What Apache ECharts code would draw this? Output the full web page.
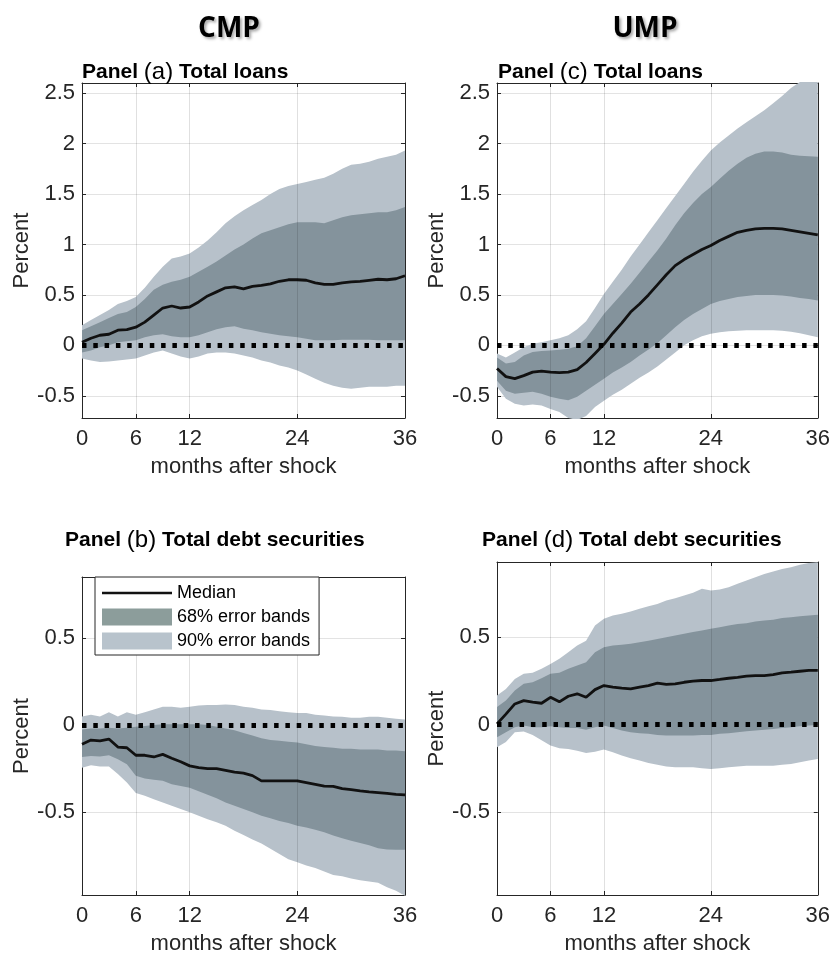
<!DOCTYPE html>
<html>
<head>
<meta charset="utf-8">
<title>Impulse responses: loans and debt securities</title>
<script src="https://cdn.jsdelivr.net/npm/echarts@6/dist/echarts.min.js"></script>
<style>
  html, body { margin: 0; padding: 0; background: #fff; }
  #chart { width: 833px; height: 956px; }
</style>
</head>
<body>
<div id="chart"></div>
<script>
// months after shock (x axis)
const months = [0,1,2,3,4,5,6,7,8,9,10,11,12,13,14,15,16,17,18,19,20,21,22,23,24,25,26,27,28,29,30,31,32,33,34,35,36];
const monthTicks = [0, 6, 12, 24, 36];

// Panel (a) CMP, total loans
const loansCmpMedian = [0.03,0.07,0.10,0.11,0.15,0.155,0.18,0.23,0.30,0.37,0.39,0.37,0.38,0.43,0.49,0.53,0.57,0.58,0.56,0.585,0.595,0.61,0.635,0.65,0.65,0.645,0.62,0.605,0.605,0.62,0.63,0.635,0.645,0.655,0.65,0.66,0.69];
const loansCmpHi68 = [0.15,0.19,0.23,0.27,0.31,0.33,0.38,0.46,0.55,0.60,0.63,0.65,0.68,0.73,0.78,0.83,0.89,0.95,1.00,1.06,1.11,1.14,1.17,1.20,1.22,1.22,1.22,1.21,1.24,1.27,1.29,1.30,1.31,1.32,1.32,1.34,1.37];
const loansCmpLo68 = [-0.07,-0.05,-0.02,0.00,0.03,0.04,0.05,0.08,0.10,0.11,0.09,0.08,0.08,0.10,0.13,0.16,0.18,0.19,0.165,0.15,0.13,0.115,0.10,0.09,0.08,0.065,0.05,0.05,0.05,0.055,0.055,0.055,0.055,0.05,0.05,0.05,0.05];
const loansCmpHi90 = [0.20,0.25,0.30,0.35,0.41,0.44,0.48,0.57,0.68,0.78,0.86,0.88,0.91,0.97,1.04,1.12,1.21,1.28,1.34,1.39,1.44,1.50,1.55,1.58,1.60,1.62,1.64,1.66,1.70,1.75,1.79,1.80,1.82,1.85,1.87,1.89,1.93];
const loansCmpLo90 = [-0.13,-0.15,-0.165,-0.16,-0.15,-0.14,-0.13,-0.10,-0.07,-0.05,-0.08,-0.11,-0.13,-0.11,-0.08,-0.07,-0.07,-0.08,-0.10,-0.12,-0.15,-0.17,-0.20,-0.22,-0.25,-0.29,-0.33,-0.37,-0.40,-0.42,-0.43,-0.42,-0.41,-0.41,-0.41,-0.40,-0.40];

// Panel (c) UMP, total loans
const loansUmpMedian = [-0.23,-0.31,-0.33,-0.30,-0.265,-0.255,-0.265,-0.27,-0.265,-0.24,-0.17,-0.08,0.01,0.12,0.22,0.33,0.41,0.50,0.60,0.70,0.79,0.85,0.90,0.95,0.99,1.04,1.08,1.12,1.14,1.155,1.16,1.16,1.155,1.14,1.125,1.11,1.095];
const loansUmpHi68 = [-0.12,-0.18,-0.165,-0.10,-0.066,-0.056,-0.05,-0.043,-0.033,-0.01,0.07,0.19,0.31,0.41,0.51,0.61,0.72,0.83,0.94,1.06,1.19,1.31,1.41,1.50,1.57,1.65,1.73,1.80,1.86,1.90,1.92,1.92,1.91,1.89,1.88,1.875,1.87];
const loansUmpLo68 = [-0.35,-0.45,-0.48,-0.47,-0.46,-0.48,-0.51,-0.53,-0.545,-0.51,-0.45,-0.39,-0.33,-0.27,-0.22,-0.165,-0.10,-0.04,0.02,0.10,0.18,0.25,0.31,0.36,0.41,0.44,0.46,0.48,0.49,0.50,0.50,0.50,0.495,0.485,0.47,0.46,0.445];
const loansUmpHi90 = [-0.08,-0.12,-0.07,-0.02,0.015,0.03,0.05,0.07,0.10,0.16,0.24,0.37,0.51,0.63,0.75,0.88,1.00,1.12,1.24,1.36,1.48,1.60,1.72,1.83,1.93,2.01,2.08,2.15,2.21,2.27,2.33,2.40,2.47,2.55,2.61,2.64,2.66];
const loansUmpLo90 = [-0.41,-0.53,-0.58,-0.595,-0.585,-0.595,-0.63,-0.66,-0.72,-0.74,-0.70,-0.61,-0.55,-0.49,-0.44,-0.38,-0.32,-0.27,-0.21,-0.14,-0.07,0.00,0.05,0.09,0.115,0.13,0.14,0.145,0.15,0.15,0.15,0.15,0.145,0.135,0.12,0.10,0.08];

// Panel (b) CMP, total debt securities
const debtCmpMedian = [-0.11,-0.086,-0.09,-0.08,-0.126,-0.13,-0.173,-0.173,-0.183,-0.168,-0.19,-0.21,-0.234,-0.244,-0.25,-0.25,-0.26,-0.27,-0.276,-0.29,-0.32,-0.32,-0.32,-0.32,-0.32,-0.33,-0.34,-0.35,-0.352,-0.364,-0.37,-0.377,-0.383,-0.387,-0.392,-0.398,-0.40];
const debtCmpHi68 = [-0.025,-0.02,-0.02,-0.015,-0.02,-0.015,-0.01,-0.005,0.00,0.005,0.005,0.005,0.005,0.005,0.00,-0.01,-0.02,-0.03,-0.045,-0.06,-0.075,-0.085,-0.09,-0.095,-0.10,-0.11,-0.12,-0.125,-0.13,-0.135,-0.135,-0.14,-0.14,-0.14,-0.145,-0.145,-0.15];
const debtCmpLo68 = [-0.183,-0.177,-0.18,-0.173,-0.196,-0.225,-0.29,-0.307,-0.314,-0.32,-0.34,-0.35,-0.36,-0.38,-0.40,-0.42,-0.444,-0.463,-0.482,-0.50,-0.52,-0.535,-0.55,-0.562,-0.577,-0.587,-0.60,-0.615,-0.634,-0.65,-0.663,-0.676,-0.69,-0.707,-0.714,-0.716,-0.716];
const debtCmpHi90 = [0.05,0.06,0.05,0.074,0.05,0.074,0.06,0.074,0.09,0.105,0.105,0.10,0.105,0.112,0.116,0.116,0.118,0.116,0.105,0.10,0.09,0.086,0.08,0.074,0.07,0.07,0.06,0.055,0.05,0.048,0.042,0.042,0.048,0.048,0.042,0.036,0.032];
const debtCmpLo90 = [-0.244,-0.23,-0.238,-0.238,-0.28,-0.33,-0.39,-0.406,-0.425,-0.444,-0.463,-0.482,-0.50,-0.52,-0.54,-0.558,-0.577,-0.606,-0.63,-0.657,-0.68,-0.71,-0.74,-0.77,-0.787,-0.806,-0.82,-0.84,-0.86,-0.867,-0.88,-0.89,-0.897,-0.905,-0.93,-0.95,-0.98];

// Panel (d) UMP, total debt securities
const debtUmpMedian = [0.004,0.06,0.118,0.137,0.128,0.122,0.156,0.13,0.162,0.176,0.156,0.20,0.223,0.214,0.208,0.204,0.214,0.223,0.237,0.23,0.233,0.242,0.248,0.252,0.252,0.258,0.265,0.27,0.277,0.28,0.28,0.286,0.296,0.30,0.305,0.31,0.31];
const debtUmpHi68 = [0.10,0.137,0.195,0.233,0.242,0.265,0.29,0.296,0.32,0.338,0.357,0.414,0.443,0.452,0.456,0.462,0.471,0.48,0.49,0.50,0.51,0.519,0.529,0.538,0.548,0.557,0.567,0.576,0.58,0.59,0.595,0.60,0.609,0.614,0.62,0.624,0.628];
const debtUmpLo68 = [-0.073,-0.044,-0.015,-0.006,-0.015,-0.015,-0.01,-0.015,-0.02,-0.02,-0.03,-0.015,-0.006,-0.02,-0.034,-0.044,-0.05,-0.053,-0.06,-0.063,-0.063,-0.063,-0.063,-0.06,-0.06,-0.053,-0.05,-0.044,-0.038,-0.034,-0.03,-0.025,-0.02,-0.015,-0.01,-0.006,-0.002];
const debtUmpHi90 = [0.166,0.204,0.26,0.29,0.296,0.32,0.347,0.376,0.414,0.452,0.48,0.567,0.605,0.624,0.634,0.647,0.662,0.677,0.69,0.71,0.723,0.738,0.754,0.777,0.767,0.773,0.786,0.805,0.824,0.843,0.862,0.876,0.89,0.90,0.914,0.924,0.929];
const debtUmpLo90 = [-0.13,-0.10,-0.044,-0.04,-0.06,-0.09,-0.12,-0.135,-0.14,-0.15,-0.162,-0.155,-0.143,-0.158,-0.177,-0.193,-0.206,-0.22,-0.23,-0.24,-0.244,-0.244,-0.244,-0.25,-0.254,-0.25,-0.244,-0.24,-0.235,-0.235,-0.235,-0.235,-0.23,-0.225,-0.216,-0.206,-0.197];

const FONT = 'Liberation Sans';
const AX = '#262626';
const LIGHT = '#b7c1ca';
const DARK = '#84939c';

// panel layout: grid box in px + y range
const panels = [
  { key: 'a', letter: '(a)', label: ' Total loans', left: 82, top: 83, width: 323, height: 335, yMin: -0.72, yMax: 2.6,
    med: loansCmpMedian, lo68: loansCmpLo68, hi68: loansCmpHi68, lo90: loansCmpLo90, hi90: loansCmpHi90, tLeft: 82, tTop: 60 },
  { key: 'c', letter: '(c)', label: ' Total loans', left: 497, top: 83, width: 324, height: 335, yMin: -0.72, yMax: 2.6,
    med: loansUmpMedian, lo68: loansUmpLo68, hi68: loansUmpHi68, lo90: loansUmpLo90, hi90: loansUmpHi90, tLeft: 498, tTop: 60 },
  { key: 'b', letter: '(b)', label: ' Total debt securities', left: 82, top: 577, width: 323, height: 320, yMin: -0.975, yMax: 0.85,
    med: debtCmpMedian, lo68: debtCmpLo68, hi68: debtCmpHi68, lo90: debtCmpLo90, hi90: debtCmpHi90, tLeft: 65, tTop: 528 },
  { key: 'd', letter: '(d)', label: ' Total debt securities', left: 497, top: 562, width: 324, height: 335, yMin: -0.975, yMax: 0.93,
    med: debtUmpMedian, lo68: debtUmpLo68, hi68: debtUmpHi68, lo90: debtUmpLo90, hi90: debtUmpHi90, tLeft: 482, tTop: 528 }
];

const widths = (lo, hi) => hi.map((v, i) => v - lo[i]);
const onTick = idx => monthTicks.indexOf(months[idx]) >= 0;

const grids = [], xAxes = [], yAxes = [], series = [];
const titles = [];

panels.forEach((p, i) => {
  grids.push({ left: p.left, top: p.top, width: p.width, height: p.height, containLabel: false });

  const tick = { show: true, inside: true, length: 4, lineStyle: { color: AX } };
  const line = { show: true, onZero: false, lineStyle: { color: AX, width: 1 } };

  xAxes.push({
    type: 'category', gridIndex: i, data: months, boundaryGap: false, position: 'bottom',
    name: 'months after shock', nameLocation: 'middle', nameGap: 38,
    nameTextStyle: { fontFamily: FONT, fontSize: 22, color: AX },
    axisLine: line, axisTick: Object.assign({ interval: onTick }, tick),
    axisLabel: { interval: onTick, fontFamily: FONT, fontSize: 22, color: AX, margin: 10 },
    splitLine: { show: false }
  });
  xAxes.push({
    type: 'category', gridIndex: i, data: months, boundaryGap: false, position: 'top',
    axisLine: line, axisTick: Object.assign({ interval: onTick }, tick),
    axisLabel: { show: false }, splitLine: { show: false }
  });

  const yBase = {
    type: 'value', gridIndex: i, min: p.yMin, max: p.yMax, minInterval: 0.5, maxInterval: 0.5,
    axisLine: line, axisTick: tick
  };
  yAxes.push(Object.assign({}, yBase, {
    position: 'left',
    name: 'Percent', nameLocation: 'middle', nameGap: 48,
    nameTextStyle: { fontFamily: FONT, fontSize: 22, color: AX },
    axisLabel: {
      fontFamily: FONT, fontSize: 22, color: AX, margin: 7,
      formatter: v => (Math.abs(v * 2 - Math.round(v * 2)) < 1e-6 ? String(Math.round(v * 2) / 2) : '')
    },
    splitLine: { show: true, lineStyle: { color: '#e3e3e3', width: 1 } }
  }));
  yAxes.push(Object.assign({}, yBase, {
    position: 'right', axisLabel: { show: false }, splitLine: { show: false }
  }));

  const common = { type: 'line', xAxisIndex: 2 * i, yAxisIndex: 2 * i, symbol: 'none', showSymbol: false, silent: true, stackStrategy: 'all' };

  // 90% band: invisible lower bound + band width stacked on top
  series.push(Object.assign({}, common, {
    name: 'lo90-' + p.key, stack: p.key + '90', data: p.lo90, lineStyle: { opacity: 0 }, z: 1
  }));
  series.push(Object.assign({}, common, {
    name: '90% error bands', stack: p.key + '90', data: widths(p.lo90, p.hi90),
    lineStyle: { opacity: 0 }, areaStyle: { color: LIGHT, opacity: 1 }, itemStyle: { color: LIGHT }, z: 1
  }));
  // 68% band
  series.push(Object.assign({}, common, {
    name: 'lo68-' + p.key, stack: p.key + '68', data: p.lo68, lineStyle: { opacity: 0 }, z: 2
  }));
  series.push(Object.assign({}, common, {
    name: '68% error bands', stack: p.key + '68', data: widths(p.lo68, p.hi68),
    lineStyle: { opacity: 0 }, areaStyle: { color: DARK, opacity: 1 }, itemStyle: { color: DARK }, z: 2
  }));

  const gridLine = { color: 'rgba(0,0,0,0.12)', width: 1, type: 'solid' };
  series.push({
    name: 'Median', type: 'line', xAxisIndex: 2 * i, yAxisIndex: 2 * i, symbol: 'none', silent: true,
    data: p.med, lineStyle: { color: '#111', width: 2.8 }, itemStyle: { color: '#111' }, z: 4,
    markLine: {
      silent: true, symbol: 'none', label: { show: false }, animation: false,
      data: [
        { xAxis: 6, lineStyle: gridLine },
        { xAxis: 12, lineStyle: gridLine },
        { xAxis: 24, lineStyle: gridLine },
        { yAxis: 0, lineStyle: { color: '#000', width: 5, type: [4.5, 6.8], cap: 'butt' } }
      ]
    }
  });

  titles.push({
    left: p.tLeft, top: p.tTop, padding: 0,
    text: '{b|Panel }{n|' + p.letter + '}{b|' + p.label + '}',
    textStyle: {
      rich: {
        b: { fontFamily: FONT, fontWeight: 'bold', fontSize: 21, color: '#000' },
        n: { fontFamily: FONT, fontWeight: 'normal', fontSize: 24, color: '#000' }
      }
    }
  });
});

const headStyle = {
  fontFamily: 'Open Sans', fontWeight: 'bold', fontSize: 28, color: '#000',
  textShadowColor: 'rgba(0,0,0,0.35)', textShadowBlur: 3, textShadowOffsetX: 2, textShadowOffsetY: 2
};

const option = {
  animation: false,
  backgroundColor: '#fff',
  title: titles,
  graphic: [
    { type: 'text', x: 229, y: 29, style: Object.assign({ text: 'CMP', align: 'center', verticalAlign: 'middle' }, headStyle) },
    { type: 'text', x: 645, y: 29, style: Object.assign({ text: 'UMP', align: 'center', verticalAlign: 'middle' }, headStyle) }
  ],
  legend: {
    orient: 'vertical', left: 95, top: 577, z: 20,
    padding: [7, 9, 5, 7], itemGap: 6, itemWidth: 70, itemHeight: 17,
    backgroundColor: '#fff', borderColor: AX, borderWidth: 1, borderRadius: 0,
    selectedMode: false,
    textStyle: { fontFamily: FONT, fontSize: 18, color: '#000', lineHeight: 18 },
    data: [
      { name: 'Median', icon: 'path://M0,0 L70,0 L70,2.5 L0,2.5 Z', itemStyle: { color: '#111' } },
      { name: '68% error bands', icon: 'rect', itemStyle: { color: '#8c9d9b' } },
      { name: '90% error bands', icon: 'rect', itemStyle: { color: '#b8c3cc' } }
    ]
  },
  grid: grids,
  xAxis: xAxes,
  yAxis: yAxes,
  series: series
};

const myChart = echarts.init(document.getElementById('chart'), null, { renderer: 'canvas' });
myChart.setOption(option);
</script>
</body>
</html>
